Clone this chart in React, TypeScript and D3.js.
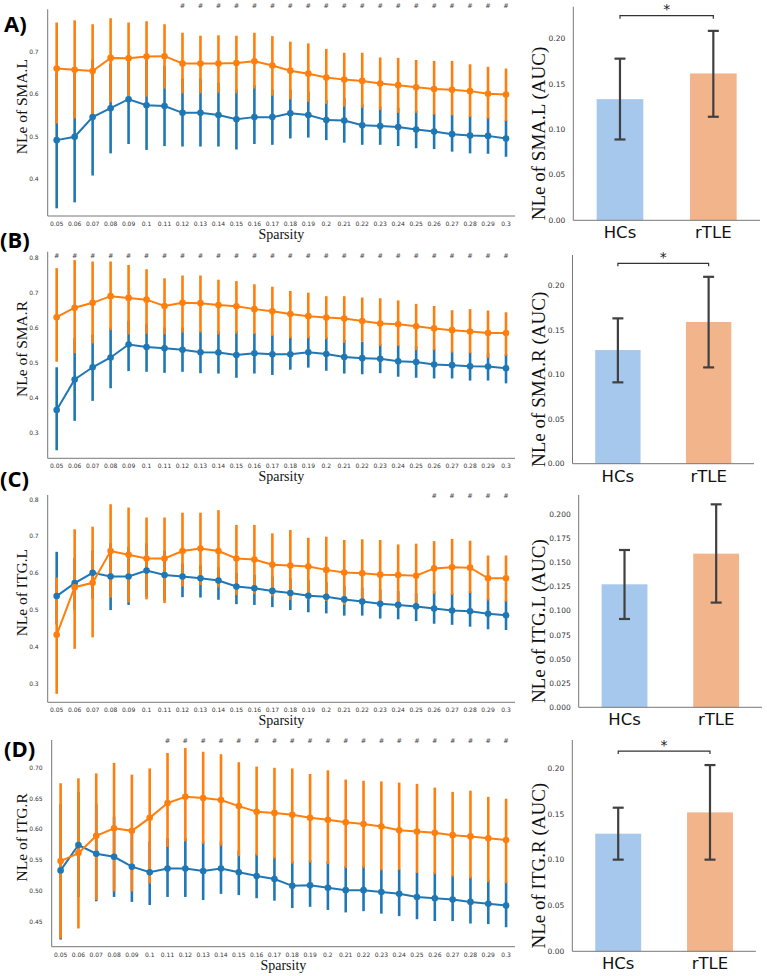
import React from 'react';
import * as d3 from 'd3';

// network sparsity thresholds on the x axis
const sparsity = [
  '0.05', '0.06', '0.07', '0.08', '0.09', '0.1', '0.11', '0.12', '0.13', '0.14', '0.15', '0.16', '0.17',
  '0.18', '0.19', '0.2', '0.21', '0.22', '0.23', '0.24', '0.25', '0.26', '0.27', '0.28', '0.29', '0.3',
];
const groups = ['HCs', 'rTLE'];

// SMA.L
const smaLHcsMean = [0.491, 0.499, 0.545, 0.566, 0.587, 0.573, 0.571, 0.555, 0.555, 0.550, 0.540, 0.545, 0.545, 0.554, 0.550, 0.538, 0.537, 0.526, 0.524, 0.522, 0.516, 0.511, 0.505, 0.502, 0.501, 0.495];
const smaLHcsLo = [0.331, 0.345, 0.408, 0.460, 0.482, 0.468, 0.477, 0.476, 0.476, 0.476, 0.469, 0.482, 0.480, 0.495, 0.497, 0.491, 0.485, 0.480, 0.480, 0.477, 0.472, 0.470, 0.464, 0.460, 0.459, 0.452];
const smaLHcsHi = [0.650, 0.660, 0.680, 0.670, 0.690, 0.680, 0.665, 0.635, 0.635, 0.625, 0.610, 0.620, 0.610, 0.610, 0.605, 0.585, 0.590, 0.575, 0.570, 0.567, 0.560, 0.553, 0.551, 0.548, 0.545, 0.538];
const smaLRtleMean = [0.659, 0.656, 0.653, 0.684, 0.683, 0.687, 0.688, 0.671, 0.671, 0.671, 0.672, 0.676, 0.666, 0.654, 0.647, 0.638, 0.633, 0.630, 0.624, 0.620, 0.615, 0.611, 0.609, 0.606, 0.600, 0.598];
const smaLRtleLo = [0.530, 0.542, 0.546, 0.580, 0.593, 0.593, 0.612, 0.601, 0.601, 0.602, 0.601, 0.612, 0.595, 0.587, 0.581, 0.576, 0.570, 0.567, 0.562, 0.555, 0.555, 0.551, 0.549, 0.545, 0.541, 0.536];
const smaLRtleHi = [0.767, 0.772, 0.763, 0.777, 0.767, 0.770, 0.763, 0.743, 0.736, 0.737, 0.736, 0.743, 0.735, 0.722, 0.718, 0.705, 0.696, 0.696, 0.685, 0.684, 0.679, 0.677, 0.677, 0.669, 0.663, 0.659];
const smaLSig = ['0.12', '0.13', '0.14', '0.15', '0.16', '0.17', '0.18', '0.19', '0.2', '0.21', '0.22', '0.23', '0.24', '0.25', '0.26', '0.27', '0.28', '0.29', '0.3'];

// SMA.R
const smaRHcsMean = [0.365, 0.452, 0.487, 0.515, 0.552, 0.545, 0.541, 0.537, 0.530, 0.529, 0.522, 0.527, 0.524, 0.524, 0.530, 0.525, 0.516, 0.513, 0.511, 0.504, 0.502, 0.495, 0.493, 0.490, 0.489, 0.484];
const smaRHcsLo = [0.250, 0.334, 0.391, 0.427, 0.476, 0.474, 0.471, 0.474, 0.470, 0.469, 0.457, 0.469, 0.465, 0.480, 0.486, 0.477, 0.469, 0.467, 0.470, 0.460, 0.457, 0.455, 0.455, 0.449, 0.449, 0.441];
const smaRHcsHi = [0.487, 0.570, 0.580, 0.600, 0.620, 0.610, 0.600, 0.600, 0.590, 0.590, 0.590, 0.585, 0.580, 0.575, 0.575, 0.573, 0.565, 0.560, 0.553, 0.550, 0.547, 0.540, 0.532, 0.530, 0.528, 0.525];
const smaRRtleMean = [0.630, 0.657, 0.671, 0.690, 0.685, 0.680, 0.662, 0.671, 0.670, 0.665, 0.661, 0.653, 0.647, 0.639, 0.633, 0.629, 0.626, 0.619, 0.612, 0.610, 0.604, 0.598, 0.593, 0.589, 0.585, 0.585];
const smaRRtleLo = [0.503, 0.527, 0.555, 0.593, 0.581, 0.583, 0.581, 0.586, 0.586, 0.581, 0.583, 0.582, 0.576, 0.570, 0.570, 0.567, 0.557, 0.560, 0.548, 0.548, 0.536, 0.536, 0.529, 0.527, 0.514, 0.520];
const smaRRtleHi = [0.770, 0.793, 0.789, 0.789, 0.779, 0.767, 0.741, 0.749, 0.749, 0.737, 0.733, 0.724, 0.717, 0.705, 0.700, 0.690, 0.690, 0.686, 0.684, 0.678, 0.668, 0.662, 0.650, 0.653, 0.649, 0.644];
const smaRSig = [...sparsity];

// ITG.L
const itgLHcsMean = [0.537, 0.572, 0.600, 0.590, 0.590, 0.606, 0.594, 0.590, 0.585, 0.579, 0.563, 0.558, 0.551, 0.545, 0.538, 0.535, 0.528, 0.522, 0.516, 0.513, 0.509, 0.503, 0.498, 0.496, 0.489, 0.485];
const itgLHcsLo = [0.460, 0.500, 0.530, 0.499, 0.513, 0.535, 0.525, 0.534, 0.533, 0.527, 0.515, 0.513, 0.507, 0.499, 0.493, 0.490, 0.484, 0.484, 0.476, 0.474, 0.469, 0.462, 0.459, 0.454, 0.447, 0.445];
const itgLHcsHi = [0.657, 0.640, 0.660, 0.680, 0.670, 0.680, 0.660, 0.625, 0.620, 0.615, 0.600, 0.595, 0.590, 0.585, 0.580, 0.575, 0.565, 0.560, 0.555, 0.550, 0.545, 0.550, 0.545, 0.550, 0.530, 0.525];
const itgLRtleMean = [0.432, 0.561, 0.573, 0.659, 0.649, 0.639, 0.639, 0.659, 0.666, 0.659, 0.639, 0.636, 0.622, 0.620, 0.617, 0.608, 0.601, 0.599, 0.595, 0.594, 0.592, 0.612, 0.615, 0.614, 0.585, 0.585];
const itgLRtleLo = [0.272, 0.394, 0.425, 0.533, 0.520, 0.528, 0.518, 0.563, 0.567, 0.561, 0.540, 0.543, 0.536, 0.527, 0.528, 0.524, 0.513, 0.518, 0.515, 0.513, 0.519, 0.543, 0.540, 0.545, 0.525, 0.522];
const itgLRtleHi = [0.587, 0.718, 0.725, 0.786, 0.777, 0.750, 0.750, 0.763, 0.763, 0.770, 0.730, 0.730, 0.707, 0.716, 0.695, 0.698, 0.689, 0.691, 0.689, 0.677, 0.679, 0.686, 0.692, 0.687, 0.647, 0.647];
const itgLSig = ['0.26', '0.27', '0.28', '0.29', '0.3'];

// ITG.R
const itgRHcsMean = [0.533, 0.574, 0.560, 0.555, 0.539, 0.530, 0.536, 0.536, 0.532, 0.536, 0.530, 0.524, 0.519, 0.508, 0.509, 0.505, 0.501, 0.501, 0.498, 0.495, 0.490, 0.488, 0.486, 0.482, 0.479, 0.476];
const itgRHcsLo = [0.421, 0.490, 0.483, 0.490, 0.482, 0.477, 0.490, 0.490, 0.485, 0.495, 0.493, 0.488, 0.484, 0.472, 0.474, 0.469, 0.465, 0.467, 0.463, 0.459, 0.454, 0.451, 0.451, 0.447, 0.446, 0.441];
const itgRHcsHi = [0.640, 0.660, 0.640, 0.620, 0.600, 0.580, 0.585, 0.585, 0.580, 0.580, 0.565, 0.560, 0.555, 0.548, 0.550, 0.548, 0.540, 0.540, 0.535, 0.535, 0.530, 0.530, 0.525, 0.523, 0.518, 0.515];
const itgRRtleMean = [0.548, 0.561, 0.589, 0.601, 0.597, 0.618, 0.642, 0.652, 0.650, 0.647, 0.637, 0.628, 0.626, 0.623, 0.618, 0.615, 0.611, 0.608, 0.604, 0.598, 0.596, 0.594, 0.590, 0.588, 0.585, 0.582];
const itgRRtleLo = [0.423, 0.439, 0.485, 0.499, 0.499, 0.512, 0.571, 0.580, 0.576, 0.573, 0.556, 0.557, 0.552, 0.544, 0.546, 0.543, 0.537, 0.537, 0.533, 0.534, 0.529, 0.527, 0.523, 0.520, 0.514, 0.512];
const itgRRtleHi = [0.674, 0.682, 0.690, 0.707, 0.688, 0.698, 0.723, 0.731, 0.725, 0.721, 0.708, 0.701, 0.699, 0.698, 0.689, 0.695, 0.680, 0.678, 0.677, 0.675, 0.673, 0.667, 0.660, 0.662, 0.652, 0.649];
const itgRSig = ['0.11', '0.12', '0.13', '0.14', '0.15', '0.16', '0.17', '0.18', '0.19', '0.2', '0.21', '0.22', '0.23', '0.24', '0.25', '0.26', '0.27', '0.28', '0.29', '0.3'];

// area under the curve per group: mean, lower and upper error
const aucSmaL = [0.1334, 0.1617];
const aucSmaLLo = [0.089, 0.114];
const aucSmaLHi = [0.178, 0.2086];
const aucSmaR = [0.1277, 0.1592];
const aucSmaRLo = [0.0914, 0.1082];
const aucSmaRHi = [0.1633, 0.210];
const aucItgL = [0.1277, 0.1595];
const aucItgLLo = [0.0917, 0.1087];
const aucItgLHi = [0.1633, 0.2107];
const aucItgR = [0.1286, 0.1519];
const aucItgRLo = [0.1002, 0.1002];
const aucItgRHi = [0.157, 0.2036];

const BLUE = '#1f77b4';
const ORANGE = '#ff7f0e';
const BAR_COLORS = ['#a6c8ec', '#f2b48b'];
const SANS = "'DejaVu Sans', sans-serif";
const SERIF = "'Liberation Serif', 'DejaVu Serif', serif";

type Series = { mean: number[]; lo: number[]; hi: number[] };
type LineSpec = {
  letter: string; letterX: number; letterY: number;
  left: number; right: number; top: number; bottom: number;
  yDomain: [number, number]; yTicks: number[]; fmt: string; label: string;
  hcs: Series; rtle: Series; sig: string[]; sigY: number;
};
type BarSpec = {
  left: number; right: number; top: number; bottom: number; yMax: number;
  yTicks: number[]; fmt: string; label: string;
  mean: number[]; lo: number[]; hi: number[]; bracket: number | null;
};

const linePanels: LineSpec[] = [
  {
    letter: 'A)', letterX: 4, letterY: 32, left: 47.7, right: 515, top: 9.3, bottom: 216,
    yDomain: [0.313, 0.798], yTicks: [0.4, 0.5, 0.6, 0.7], fmt: '.1f', label: 'NLe of SMA.L',
    hcs: { mean: smaLHcsMean, lo: smaLHcsLo, hi: smaLHcsHi },
    rtle: { mean: smaLRtleMean, lo: smaLRtleLo, hi: smaLRtleHi }, sig: smaLSig, sigY: 0.805,
  },
  {
    letter: '(B)', letterX: 0, letterY: 248, left: 47.7, right: 515, top: 251.7, bottom: 458.3,
    yDomain: [0.227, 0.817], yTicks: [0.3, 0.4, 0.5, 0.6, 0.7, 0.8], fmt: '.1f', label: 'NLe of SMA.R',
    hcs: { mean: smaRHcsMean, lo: smaRHcsLo, hi: smaRHcsHi },
    rtle: { mean: smaRRtleMean, lo: smaRRtleLo, hi: smaRRtleHi }, sig: smaRSig, sigY: 0.806,
  },
  {
    letter: '(C)', letterX: 0, letterY: 487, left: 47.7, right: 515, top: 495, bottom: 702.3,
    yDomain: [0.249, 0.811], yTicks: [0.3, 0.4, 0.5, 0.6, 0.7, 0.8], fmt: '.1f', label: 'NLe of ITG.L',
    hcs: { mean: itgLHcsMean, lo: itgLHcsLo, hi: itgLHcsHi },
    rtle: { mean: itgLRtleMean, lo: itgLRtleLo, hi: itgLRtleHi }, sig: itgLSig, sigY: 0.808,
  },
  {
    letter: '(D)', letterX: 4, letterY: 757, left: 51.7, right: 515, top: 740, bottom: 946.7,
    yDomain: [0.4095, 0.744], yTicks: [0.45, 0.5, 0.55, 0.6, 0.65, 0.7], fmt: '.2f', label: 'NLe of ITG.R',
    hcs: { mean: itgRHcsMean, lo: itgRHcsLo, hi: itgRHcsHi },
    rtle: { mean: itgRRtleMean, lo: itgRRtleLo, hi: itgRRtleHi }, sig: itgRSig, sigY: 0.743,
  },
];

const barPanels: BarSpec[] = [
  {
    left: 573.3, right: 760, top: 6.7, bottom: 220.3, yMax: 0.2352, yTicks: [0, 0.05, 0.1, 0.15, 0.2], fmt: '.2f',
    label: 'NLe of SMA.L (AUC)', mean: aucSmaL, lo: aucSmaLLo, hi: aucSmaLHi, bracket: 0.2253,
  },
  {
    left: 572.5, right: 754, top: 255, bottom: 463.7, yMax: 0.2345, yTicks: [0, 0.05, 0.1, 0.15, 0.2], fmt: '.2f',
    label: 'NLe of SMA.R (AUC)', mean: aucSmaR, lo: aucSmaRLo, hi: aucSmaRHi, bracket: 0.2252,
  },
  {
    left: 578.7, right: 762, top: 495, bottom: 707.3, yMax: 0.2204,
    yTicks: [0, 0.025, 0.05, 0.075, 0.1, 0.125, 0.15, 0.175, 0.2], fmt: '.3f',
    label: 'NLe of ITG.L (AUC)', mean: aucItgL, lo: aucItgLLo, hi: aucItgLHi, bracket: null,
  },
  {
    left: 572.3, right: 755.9, top: 740, bottom: 951.3, yMax: 0.231, yTicks: [0, 0.05, 0.1, 0.15, 0.2], fmt: '.2f',
    label: 'NLe of ITG.R (AUC)', mean: aucItgR, lo: aucItgRLo, hi: aucItgRHi, bracket: 0.2189,
  },
];

function LinePanel({ p }: { p: LineSpec }) {
  const x = d3.scalePoint<string>().domain(sparsity).range([p.left, p.right]).padding(0.5);
  const y = d3.scaleLinear().domain(p.yDomain).range([p.bottom, p.top]);
  const fmt = d3.format(p.fmt);
  const path = d3.line<number>().x((_, i) => x(sparsity[i]) as number).y((d) => y(d));
  const series = [
    { s: p.hcs, color: BLUE },
    { s: p.rtle, color: ORANGE },
  ];
  const midY = (p.top + p.bottom) / 2;
  return (
    <g>
      <text x={p.letterX} y={p.letterY} fontFamily="'Open Sans', sans-serif" fontWeight={700} fontSize={22} fill="#000">
        {p.letter}
      </text>
      {/* confidence bars first, orange over blue */}
      {series.map((g) => (
        <g key={'err' + g.color}>
          {g.s.mean.map((_, i) => (
            <line key={i} x1={x(sparsity[i])} x2={x(sparsity[i])} y1={y(g.s.lo[i])} y2={y(g.s.hi[i])}
              stroke={g.color} strokeWidth={2.6} />
          ))}
        </g>
      ))}
      {series.map((g) => (
        <g key={'pts' + g.color}>
          <path d={path(g.s.mean) || ''} fill="none" stroke={g.color} strokeWidth={2} />
          {g.s.mean.map((v, i) => (
            <circle key={i} cx={x(sparsity[i])} cy={y(v)} r={3.3} fill={g.color} />
          ))}
        </g>
      ))}
      {p.sig.map((s) => (
        <text key={s} x={x(s)} y={y(p.sigY)} textAnchor="middle" dominantBaseline="central"
          fontFamily={SANS} fontSize={6.5} fill="#444">#</text>
      ))}
      <line x1={p.left} x2={p.left} y1={p.top} y2={p.bottom} stroke="#777" strokeWidth={1} />
      <line x1={p.left} x2={p.right} y1={p.bottom} y2={p.bottom} stroke="#777" strokeWidth={1} />
      {p.yTicks.map((t) => (
        <text key={t} x={p.left - 9} y={y(t)} textAnchor="end" dominantBaseline="central"
          fontFamily={SANS} fontSize={6} fill="#333">{fmt(t)}</text>
      ))}
      {sparsity.map((s) => (
        <text key={s} x={x(s)} y={p.bottom + 10} textAnchor="middle"
          fontFamily={SANS} fontSize={6} fill="#333">{s}</text>
      ))}
      <text x={(p.left + p.right) / 2} y={p.bottom + 23} textAnchor="middle" fontFamily={SERIF} fontSize={14} fill="#111">
        Sparsity
      </text>
      <text transform={`translate(21.5,${midY - 6}) rotate(-90)`} textAnchor="middle" dominantBaseline="central"
        fontFamily={SERIF} fontSize={15.5} fill="#111">{p.label}</text>
    </g>
  );
}

function BarPanel({ p }: { p: BarSpec }) {
  const x = d3.scaleBand<string>().domain(groups).range([p.left, p.right]).paddingInner(0.5).paddingOuter(0.25);
  const y = d3.scaleLinear().domain([0, p.yMax]).range([p.bottom, p.top]);
  const fmt = d3.format(p.fmt);
  const bw = x.bandwidth();
  const cx = (g: string) => (x(g) as number) + bw / 2;
  const midY = (p.top + p.bottom) / 2;
  return (
    <g>
      {groups.map((g, i) => (
        <rect key={g} x={x(g)} y={y(p.mean[i])} width={bw} height={p.bottom - y(p.mean[i])} fill={BAR_COLORS[i]} />
      ))}
      {groups.map((g, i) => (
        <g key={'e' + g} stroke="#404040" strokeWidth={2.2}>
          <line x1={cx(g)} x2={cx(g)} y1={y(p.lo[i])} y2={y(p.hi[i])} />
          <line x1={cx(g) - 5.5} x2={cx(g) + 5.5} y1={y(p.lo[i])} y2={y(p.lo[i])} />
          <line x1={cx(g) - 5.5} x2={cx(g) + 5.5} y1={y(p.hi[i])} y2={y(p.hi[i])} />
        </g>
      ))}
      {p.bracket !== null && (
        <g>
          <path
            d={`M${cx(groups[0])},${y(p.bracket) + 3}V${y(p.bracket)}H${cx(groups[1])}V${y(p.bracket) + 3}`}
            fill="none" stroke="#333" strokeWidth={1.2}
          />
          <text x={(cx(groups[0]) + cx(groups[1])) / 2} y={y(p.bracket) - 1.5} textAnchor="middle"
            fontFamily={SANS} fontSize={14} fill="#222">*</text>
        </g>
      )}
      <line x1={p.left} x2={p.left} y1={p.top} y2={p.bottom} stroke="#777" strokeWidth={1} />
      <line x1={p.left} x2={p.right} y1={p.bottom} y2={p.bottom} stroke="#777" strokeWidth={1} />
      {p.yTicks.map((t) => (
        <text key={t} x={p.left - 8} y={y(t)} textAnchor="end" dominantBaseline="central"
          fontFamily={SANS} fontSize={7.5} fill="#333">{fmt(t)}</text>
      ))}
      {groups.map((g) => (
        <text key={'l' + g} x={cx(g)} y={p.bottom + 18} textAnchor="middle" fontFamily={SANS} fontSize={16.5} fill="#111">
          {g}
        </text>
      ))}
      <text transform={`translate(538.5,${midY + 20}) rotate(-90)`} textAnchor="middle" dominantBaseline="central"
        fontFamily={SERIF} fontSize={19} fill="#111">{p.label}</text>
    </g>
  );
}

export default function App() {
  return (
    <div style={{ position: 'absolute', left: 0, top: 0 }}>
      <svg width={767} height={976} viewBox="0 0 767 976" style={{ display: 'block', background: '#fff' }}>
        {linePanels.map((p) => (
          <LinePanel key={p.label} p={p} />
        ))}
        {barPanels.map((p) => (
          <BarPanel key={p.label} p={p} />
        ))}
      </svg>
    </div>
  );
}
